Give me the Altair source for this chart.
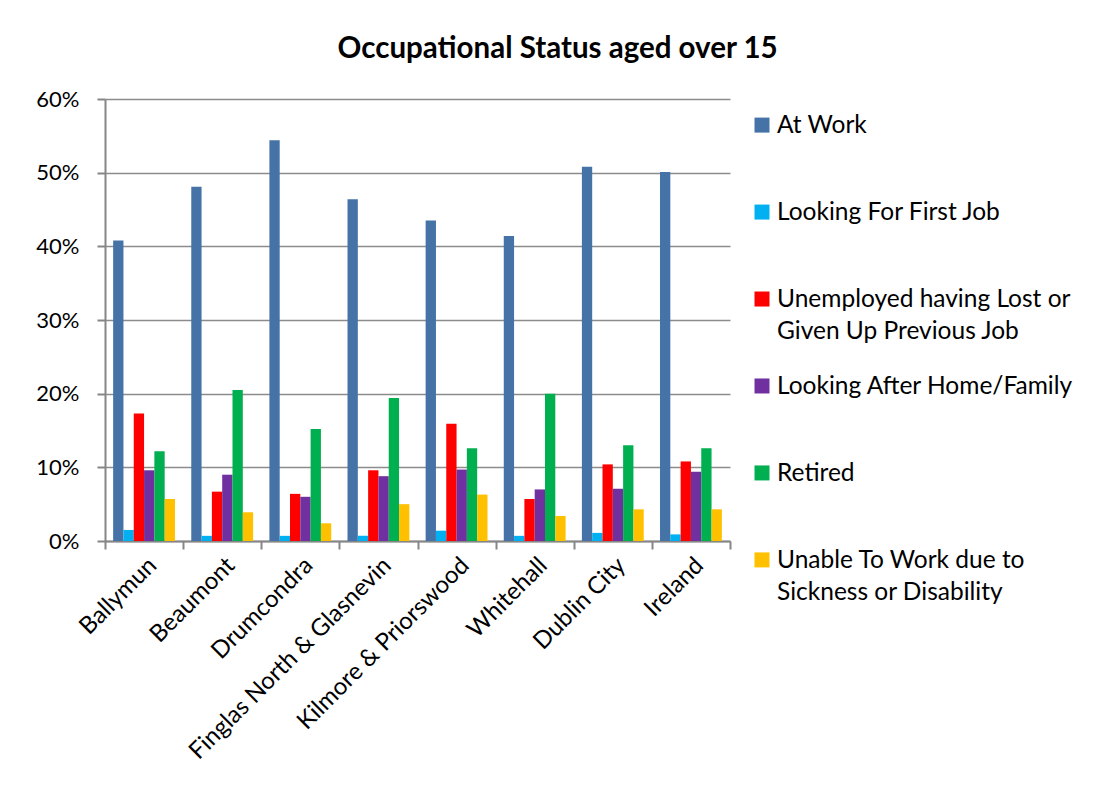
import altair as alt
import pandas as pd

FONT = "Lato"

areas = ["Ballymun", "Beaumont", "Drumcondra", "Finglas North & Glasnevin",
         "Kilmore & Priorswood", "Whitehall", "Dublin City", "Ireland"]
series = ["At Work", "Looking For First Job",
          "Unemployed having Lost or Given Up Previous Job",
          "Looking After Home/Family", "Retired",
          "Unable To Work due to Sickness or Disability"]
legend_labels = ["At Work", "Looking For First Job",
                 "Unemployed having Lost or\nGiven Up Previous Job",
                 "Looking After Home/Family", "Retired",
                 "Unable To Work due to\nSickness or Disability"]
colors = ["#4572A7", "#00B0F0", "#FF0000", "#7030A0", "#00B050", "#FFC000"]

at_work = [40.8, 48.1, 54.4, 46.4, 43.5, 41.4, 50.8, 50.1]
first_job = [1.5, 0.7, 0.7, 0.7, 1.4, 0.7, 1.1, 0.9]
unemployed = [17.3, 6.7, 6.4, 9.6, 15.9, 5.7, 10.4, 10.8]
home_family = [9.6, 9.0, 6.0, 8.8, 9.7, 7.0, 7.1, 9.4]
retired = [12.2, 20.5, 15.2, 19.4, 12.6, 20.0, 13.0, 12.6]
unable = [5.7, 3.9, 2.4, 5.0, 6.3, 3.4, 4.3, 4.3]

values = [at_work, first_job, unemployed, home_family, retired, unable]
rows = []
for s, vals in zip(series, values):
    for a, v in zip(areas, vals):
        rows.append({"area": a, "series": s, "value": v / 100.0})
df = pd.DataFrame(rows)

color_scale = alt.Scale(domain=series, range=colors)

bars = alt.Chart(df).mark_bar().encode(
    x=alt.X("area:N", sort=areas, title=None,
            scale=alt.Scale(paddingInner=0, paddingOuter=0),
            axis=alt.Axis(labelAngle=-45, labelFontSize=24, labelFont=FONT,
                          labelColor="black", tickBand="extent", tickSize=8,
                          tickColor="#868686", tickWidth=2, domainColor="#868686",
                          domainWidth=2, labelPadding=4, labelLimit=0)),
    xOffset=alt.XOffset("series:N", sort=series,
                        scale=alt.Scale(paddingInner=0, paddingOuter=0.79)),
    y=alt.Y("value:Q", title=None,
            scale=alt.Scale(domain=[0, 0.6], nice=False),
            axis=alt.Axis(format=".0%", values=[0, 0.1, 0.2, 0.3, 0.4, 0.5, 0.6],
                          labelFontSize=22, labelFont=FONT, labelColor="black",
                          tickSize=8, tickColor="#868686", tickWidth=2,
                          domainColor="#868686", domainWidth=2,
                          gridColor="#8c8c8c", gridWidth=1.5, labelPadding=18)),
    color=alt.Color("series:N", scale=color_scale, legend=None),
).properties(width=625, height=442)

leg_df = pd.DataFrame({"series": series, "label": legend_labels})
ysc = alt.Y("series:N", sort=series, axis=None,
            scale=alt.Scale(type="point", padding=0.3))
squares = alt.Chart(leg_df).mark_square(size=225, opacity=1).encode(
    x=alt.value(15), y=ysc,
    color=alt.Color("series:N", scale=color_scale, legend=None))
texts = alt.Chart(leg_df).mark_text(
    align="left", baseline="alphabetic", dy=8, fontSize=24.5, font=FONT,
    lineBreak="\n", lineHeight=32, color="black").encode(
    x=alt.value(30), y=ysc, text="label:N")
legend = (squares + texts).properties(width=310, height=487)

chart = alt.hconcat(bars, legend, spacing=16).properties(
    title=alt.TitleParams("Occupational Status aged over 15", fontSize=29.5,
                          fontWeight="bold", font=FONT, anchor="middle",
                          color="black", offset=24, dx=3),
    padding={"left": 27, "top": 25, "right": 5, "bottom": 5},
    background="white",
).configure_view(stroke=None)

chart.save("out.html", embed_options={"renderer": "svg", "actions": False})
